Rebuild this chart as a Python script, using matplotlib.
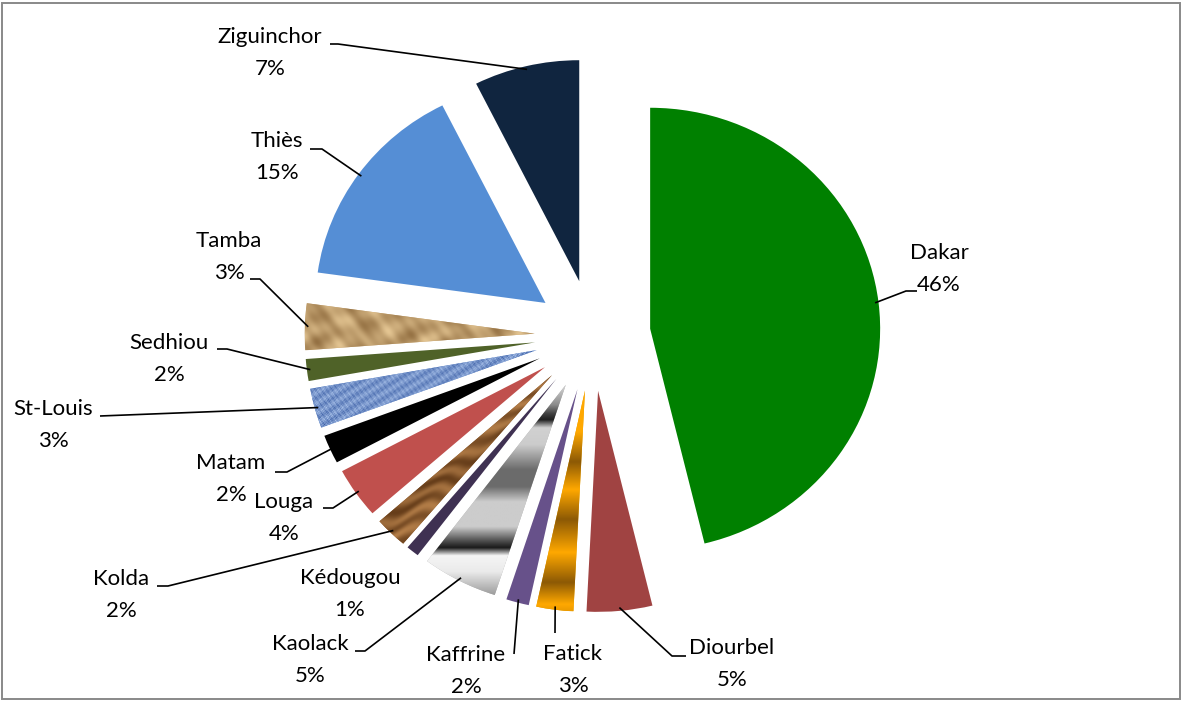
import numpy as np
import matplotlib
matplotlib.use("Agg")
import matplotlib.pyplot as plt
from matplotlib.patches import Rectangle

# ---------------- data ----------------
regions = ["Dakar", "Diourbel", "Fatick", "Kaffrine", "Kaolack", "Kédougou", "Kolda",
           "Louga", "Matam", "St-Louis", "Sedhiou", "Tamba", "Thiès", "Ziguinchor"]
shares = [46.2, 4.6, 2.6, 1.6, 5.3, 0.9, 2.3, 3.7, 2.1, 2.9, 1.6, 3.4, 15.4, 7.4]
pct_labels = ["46%", "5%", "3%", "2%", "5%", "1%", "2%", "4%", "2%", "3%", "2%", "3%", "15%", "7%"]

# ---------------- style / layout ----------------
W, H = 1183, 702
CX, CY = 592.6, 335.4      # pie centre (image px)
SX, SY = 230.0, 221.0      # radius in px (x / y)
EXPL = 0.252

colors = ["#008000", "#A04342", "#E8A000", "#67518A", "#B0B0B0", "#3F3152", "#8C5A2E",
          "#C0504D", "#000000", "#7094CF", "#4F6228", "#C9A97A", "#558ED5", "#10253F"]

# label centres (image px) and leader line (start, elbow) in image px
label_pos = {
    "Dakar": (939, 269), "Diourbel": (732, 664), "Fatick": (573, 670),
    "Kaffrine": (466, 671), "Kaolack": (310, 660), "Kédougou": (350, 594),
    "Kolda": (121, 595), "Louga": (284, 518), "Matam": (231, 479),
    "St-Louis": (53, 425), "Sedhiou": (169, 359), "Tamba": (229, 257),
    "Thiès": (277, 157), "Ziguinchor": (270, 53),
}
leaders = {
    "Dakar": [(917, 291), (906, 291)],
    "Diourbel": [(686, 656), (672, 656)],
    "Fatick": [(555, 633)],
    "Kaffrine": [(514, 654)],
    "Kaolack": [(355, 651), (365, 651)],
    "Kolda": [(157, 586), (168, 586)],
    "Louga": [(323, 508), (333, 508)],
    "Matam": [(275, 472), (287, 472)],
    "St-Louis": [(100, 416)],
    "Sedhiou": [(217, 349), (227, 349)],
    "Tamba": [(250, 279), (260, 279)],
    "Thiès": [(310, 149), (322, 149)],
    "Ziguinchor": [(330, 44), (338, 44)],
}


def p2d(px, py):
    return ((px - CX) / SX, (CY - py) / SY)


fig = plt.figure(figsize=(W / 100, H / 100), dpi=100)
ax = fig.add_axes([0, 0, 1, 1])
wedges, _ = ax.pie(shares, explode=[EXPL] * len(shares), startangle=90,
                   counterclock=False, colors=colors,
                   wedgeprops=dict(linewidth=0))
ax.set_aspect("auto")
ax.axis("off")


# ---------------- textures ----------------
def grad(Y, ys, vals):
    return np.interp(Y, ys, vals)


def mix(t, c1, c2):
    t = np.clip(t, 0, 1)[..., None]
    return np.array(c1) * (1 - t) + np.array(c2) * t


def tex_chrome(X, Y):
    ys = [385, 405, 414, 420, 428, 445, 470, 487, 502, 527, 540, 548, 556, 572, 600]
    g = [0.85, 0.55, 0.25, 0.12, 0.82, 0.80, 0.42, 0.42, 0.80, 0.80, 0.35, 0.10, 0.96, 0.92, 0.55]
    v = grad(Y, ys, g)
    return np.dstack([v, v, v])


def tex_gold(X, Y):
    ys = [385, 432, 462, 490, 520, 553, 583, 605, 625]
    t = grad(Y, ys, [0, 0, 1, 0, 1, 0, 1, 0, 0.5])
    return mix(t, (1.0, 0.66, 0.0), (0.55, 0.35, 0.02))


def tex_wood(X, Y):
    yy = Y + 0.25 * X + 3.0 * np.sin(X / 13.0) + 2.0 * np.sin(X / 5.3 + Y / 7.0)
    t = 0.5 + 0.35 * np.sin(yy / 2.6) + 0.15 * np.sin(yy / 7.9 + X / 21.0)
    return mix(t, (0.70, 0.49, 0.28), (0.40, 0.24, 0.10))


def tex_denim(X, Y):
    t = (0.5 + 0.22 * np.sin(X * 1.9 + 1.3 * np.sin(Y * 0.7)) * np.sin(Y * 2.3 + 1.1 * np.sin(X * 0.5))
         + 0.14 * np.sin(X * 0.37 + Y * 0.61) + 0.12 * np.sin(X * 1.13 - Y * 0.83)
         + 0.10 * np.sin(X * 2.71 + Y * 1.93))
    return mix(t, (0.72, 0.81, 0.95), (0.22, 0.36, 0.64))


def tex_sand(X, Y):
    t = (0.5 + 0.18 * np.sin(X / 7.0 + np.sin(Y / 6.0)) + 0.14 * np.sin(Y / 4.0 + X / 11.0)
         + 0.12 * np.sin((X - Y) / 5.0) + 0.08 * np.sin(X / 2.3 - Y / 3.1))
    return mix(t, (0.90, 0.78, 0.58), (0.58, 0.44, 0.26))


textures = {"Kaolack": tex_chrome, "Fatick": tex_gold, "Kolda": tex_wood,
            "St-Louis": tex_denim, "Tamba": tex_sand}

for name, w in zip(regions, wedges):
    if name not in textures:
        continue
    bb = w.get_path().get_extents()
    x0, x1, y0, y1 = bb.x0, bb.x1, bb.y0, bb.y1
    px0, px1 = CX + SX * x0, CX + SX * x1
    py0, py1 = CY - SY * y1, CY - SY * y0
    nx = max(int(px1 - px0) + 2, 2)
    ny = max(int(py1 - py0) + 2, 2)
    X, Y = np.meshgrid(np.linspace(px0, px1, nx), np.linspace(py0, py1, ny))
    img = textures[name](X, Y)
    im = ax.imshow(img, extent=(x0, x1, y0, y1), origin="upper",
                   interpolation="bilinear", aspect="auto", zorder=2)
    im.set_clip_path(w)

ax.set_xlim(-CX / SX, (W - CX) / SX)
ax.set_ylim((CY - H) / SY, CY / SY)

# ---------------- labels ----------------
font = ["Lato", "DejaVu Sans"]
for name, pct, w in zip(regions, pct_labels, wedges):
    tx, ty = label_pos[name]
    ax.text(*p2d(tx, ty), f"{name}\n{pct}", ha="center", va="center",
            multialignment="center", fontsize=16, family=font,
            color="#000000", linespacing=1.72, zorder=5)
    if name in leaders:
        b = np.deg2rad((w.theta1 + w.theta2) / 2)
        ex = w.center[0] + 0.985 * w.r * np.cos(b)
        ey = w.center[1] + 0.985 * w.r * np.sin(b)
        pts = [p2d(*p) for p in leaders[name]] + [(ex, ey)]
        xs, ys = zip(*pts)
        ax.plot(xs, ys, color="#000000", lw=1.2, zorder=4, solid_capstyle="butt")

fig.patches.append(Rectangle((2 / W, 3 / H), 1178 / W, 696 / H, transform=fig.transFigure,
                             fill=False, edgecolor="#898989", linewidth=1.4))

fig.savefig("out.png", dpi=100)
